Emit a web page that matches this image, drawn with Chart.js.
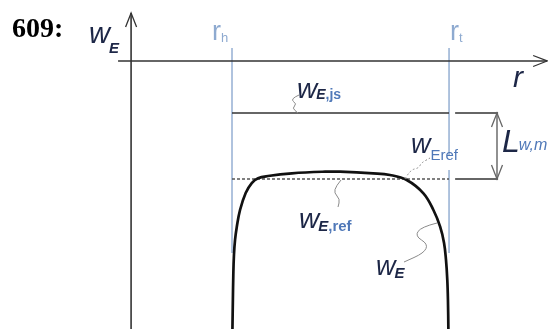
<!DOCTYPE html>
<html>
<head>
<meta charset="utf-8">
<script src="https://cdn.jsdelivr.net/npm/chart.js@4/dist/chart.umd.min.js"></script>
<style>
  html, body { margin: 0; padding: 0; background: #fff; overflow: hidden; }
  canvas { display: block; }
</style>
</head>
<body>
<canvas id="c" width="548" height="329"></canvas>
<script>
// Relative span: 0 at the hub radius r_h, 1 at the tip radius r_t
const span = [0.002, 0.004, 0.006, 0.009, 0.014, 0.022, 0.037, 0.063, 0.091, 0.120, 0.166, 0.276, 0.429,
              0.498, 0.650, 0.728, 0.805, 0.882, 0.928, 0.959, 0.977, 0.986, 0.992, 0.995, 0.997];
// Velocity profile w_E along the span, in units of the reference level w_E,ref
const wE = [-1.273, -0.833, -0.455, -0.152, 0.076, 0.273, 0.530, 0.788, 0.939, 1.011, 1.045, 1.086, 1.111,
            1.111, 1.086, 1.061, 0.985, 0.783, 0.530, 0.277, 0.030, -0.227, -0.530, -0.833, -1.273];
// Radius marks (hub, tip) and their subscripts
const radiusMarks = [0, 1];
const radiusSubs = ['h', 't'];
// Reference levels
const wERef = 1;
const wEJs = 2;

// ---- layout of the sketch, in data units ----
const X_MIN = -1.069, X_MAX = 1.456, Y_MIN = -1.273, Y_MAX = 3.712;
const W_AXIS_AT = -0.465, W_AXIS_TOP = 3.515;
const R_AXIS_AT = 2.788, R_AXIS_FROM = -0.525, R_AXIS_TO = 1.452;
const MARK_TOP = 2.985, MARK_BOTTOM = -0.121;
const EXT_FROM = 1.028, EXT_TO = 1.226, DIM_AT = 1.221;

const curve = span.map((s, i) => ({ x: s, y: wE[i] }));
const seg = (x1, y1, x2, y2) => [{ x: x1, y: y1 }, { x: x2, y: y2 }];
const INK = '#333333';
const MARK = '#8eaad0';

const datasets = [
  { data: curve, borderColor: '#111', borderWidth: 2.7, tension: 0.4 },
  { data: seg(0, wEJs, 1, wEJs), borderColor: INK, borderWidth: 1.3 },
  { data: seg(EXT_FROM, wEJs, EXT_TO, wEJs), borderColor: INK, borderWidth: 1.3 },
  { data: seg(0, wERef, 1, wERef), borderColor: '#555', borderWidth: 1.3, borderDash: [3, 2] },
  { data: seg(EXT_FROM, wERef, EXT_TO, wERef), borderColor: INK, borderWidth: 1.3 },
  { data: seg(DIM_AT, wERef, DIM_AT, wEJs), borderColor: '#555', borderWidth: 1.3 },
  { data: seg(W_AXIS_AT, Y_MIN, W_AXIS_AT, W_AXIS_TOP), borderColor: INK, borderWidth: 1.6 },
  { data: seg(R_AXIS_FROM, R_AXIS_AT, R_AXIS_TO, R_AXIS_AT), borderColor: INK, borderWidth: 1.6 },
  ...radiusMarks.map(r => ({ data: seg(r, MARK_TOP, r, MARK_BOTTOM), borderColor: MARK, borderWidth: 1.4 }))
].map(d => Object.assign({ pointRadius: 0, fill: false, tension: 0, showLine: true }, d));

const SANS = '"Liberation Sans", Arial, sans-serif';
const DARK = '#1d2747';
const BLUE = '#4f78b8';

function txt(ctx, s, x, y, font, color) {
  ctx.font = font;
  ctx.fillStyle = color;
  ctx.fillText(s, x, y);
  return x + ctx.measureText(s).width;
}

function leader(ctx, pts, dashed) {
  ctx.save();
  ctx.strokeStyle = '#8a8a8a';
  ctx.lineWidth = 1;
  if (dashed) ctx.setLineDash([2, 2]);
  ctx.beginPath();
  ctx.moveTo(pts[0][0], pts[0][1]);
  for (let i = 1; i < pts.length - 1; i++) {
    const mx = (pts[i][0] + pts[i + 1][0]) / 2, my = (pts[i][1] + pts[i + 1][1]) / 2;
    ctx.quadraticCurveTo(pts[i][0], pts[i][1], mx, my);
  }
  const l = pts[pts.length - 1];
  ctx.lineTo(l[0], l[1]);
  ctx.stroke();
  ctx.restore();
}

function arrow(ctx, tx, ty, dx, dy, color) {
  // open arrowhead: tip (tx,ty), wings spread along direction (dx,dy)
  ctx.save();
  ctx.strokeStyle = color;
  ctx.lineWidth = 1.3;
  ctx.beginPath();
  const len = Math.hypot(dx, dy), ux = dx / len, uy = dy / len;
  const back = 14, half = 5.5;
  ctx.moveTo(tx + ux * back - uy * half, ty + uy * back + ux * half);
  ctx.lineTo(tx, ty);
  ctx.lineTo(tx + ux * back + uy * half, ty + uy * back - ux * half);
  ctx.stroke();
  ctx.restore();
}

const sketch = {
  id: 'sketch',
  afterDatasetsDraw(chart) {
    const ctx = chart.ctx;
    const X = v => chart.scales.x.getPixelForValue(v);
    const Y = v => chart.scales.y.getPixelForValue(v);
    ctx.save();
    ctx.textBaseline = 'alphabetic';

    // arrowheads of the axes and of the L_w,m dimension
    arrow(ctx, X(W_AXIS_AT), Y(W_AXIS_TOP), 0, 1, INK);
    arrow(ctx, X(R_AXIS_TO), Y(R_AXIS_AT), -1, 0, INK);
    arrow(ctx, X(DIM_AT), Y(wEJs), 0, 1, '#666');
    arrow(ctx, X(DIM_AT), Y(wERef), 0, -1, '#666');

    // leader lines from the labels
    leader(ctx, [[299, 95], [290, 99], [297, 104], [292, 108], [298, 113]]);
    leader(ctx, [[341, 180], [336, 186], [334, 193], [340, 199], [338, 207]]);
    leader(ctx, [[405, 179], [410, 170], [419, 168], [421, 163], [430, 158]], true);
    leader(ctx, [[437, 223], [421, 227], [415, 236], [428, 244], [424, 253], [404, 262]]);

    // figure number
    txt(ctx, '609:', 12, 37, 'bold 28px "Liberation Serif", "Times New Roman", serif', '#000');

    // axis labels
    let x = txt(ctx, 'w', 89, 43, 'italic 29px ' + SANS, DARK);
    txt(ctx, 'E', x - 1, 53, 'italic bold 15px ' + SANS, DARK);
    txt(ctx, 'r', 513, 87, 'italic 30px ' + SANS, DARK);

    // radius marks
    radiusMarks.forEach((r, i) => {
      const px = X(r);
      const left = i === 0 ? px - 20 : px + 1;
      const e = txt(ctx, 'r', left, 40, '27px ' + SANS, MARK);
      txt(ctx, radiusSubs[i], e, 42, '13px ' + SANS, MARK);
    });

    // w_E,js
    x = txt(ctx, 'w', 297, 98, 'italic 28px ' + SANS, DARK);
    x = txt(ctx, 'E', x - 1, 99, 'italic bold 14px ' + SANS, DARK);
    txt(ctx, ',js', x, 99, 'bold 14px ' + SANS, BLUE);

    // L_w,m
    x = txt(ctx, 'L', 502, 152, 'italic 32px ' + SANS, DARK);
    txt(ctx, 'w,m', x - 1, 150, 'italic 16px ' + SANS, BLUE);

    // w_Eref (upper right)
    ctx.fillStyle = '#fff';
    ctx.fillRect(446, 155, 7, 15);
    x = txt(ctx, 'w', 411, 153, 'italic 27px ' + SANS, DARK);
    txt(ctx, 'Eref', x, 160, '15px ' + SANS, BLUE);

    // w_E,ref (below the dashed level)
    x = txt(ctx, 'w', 299, 228, 'italic 28px ' + SANS, DARK);
    x = txt(ctx, 'E', x - 1, 231, 'italic bold 15px ' + SANS, DARK);
    txt(ctx, ',ref', x, 231, 'bold 15px ' + SANS, BLUE);

    // w_E on the profile
    x = txt(ctx, 'w', 376, 275, 'italic 27px ' + SANS, DARK);
    txt(ctx, 'E', x - 1, 278, 'italic bold 15px ' + SANS, DARK);

    ctx.restore();
  }
};

new Chart(document.getElementById('c'), {
  type: 'scatter',
  data: { datasets },
  options: {
    responsive: false,
    animation: false,
    layout: { padding: 0 },
    plugins: { legend: { display: false }, tooltip: { enabled: false } },
    scales: {
      x: { type: 'linear', display: false, min: X_MIN, max: X_MAX },
      y: { type: 'linear', display: false, min: Y_MIN, max: Y_MAX }
    }
  },
  plugins: [sketch]
});
</script>
</body>
</html>
